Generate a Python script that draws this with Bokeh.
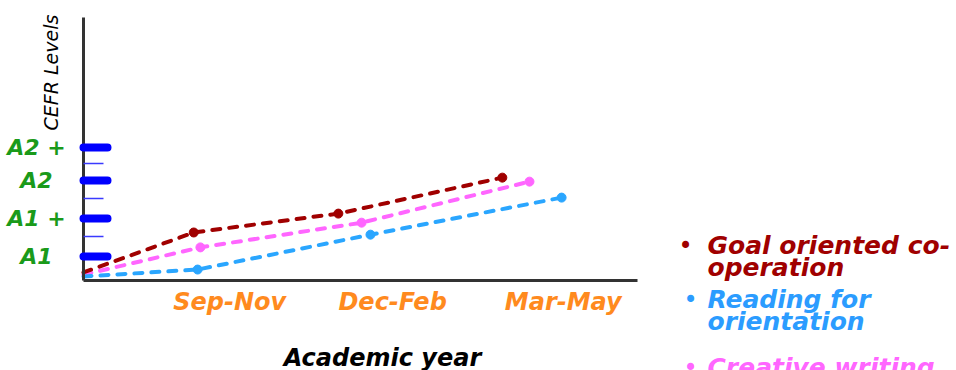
import math

from bokeh.embed import file_html
from bokeh.models import FixedTicker, Label, LinearAxis, Range1d
from bokeh.plotting import figure
from bokeh.resources import INLINE

# Periods of the academic year and where they sit on the time axis
periods = ["Sep-Nov", "Dec-Feb", "Mar-May"]
period_pos = [2.64, 5.58, 8.66]

# CEFR levels on the vertical axis, with the in-between marks
levels = ["A1", "A1 +", "A2", "A2 +"]
level_pos = [1.0, 2.05, 3.1, 4.0]
level_mid = [1.55, 2.6, 3.55]

# Progress of each activity (time, level)
goal_x = [0.0, 1.99, 4.60, 7.56]
goal_y = [0.56, 1.66, 2.18, 3.17]

reading_x = [0.0, 2.06, 5.18, 8.63]
reading_y = [0.45, 0.64, 1.60, 2.62]

creative_x = [0.0, 2.11, 5.02, 8.05]
creative_y = [0.50, 1.25, 1.93, 3.06]

series_names = ["Goal oriented co-\noperation", "Reading for\norientation", "Creative writing"]

# extent of the drawn axes
X_MIN, X_MAX = 0.0, 10.0
Y_MIN, Y_MAX = 0.34, 7.58

RED = "#a00000"
BLUE = "#2aa6ff"
PINK = "#ff66ff"
GREEN = "#1a9a1a"
ORANGE = "#ff8a1e"
FONT = "DejaVu Sans"

W, H = 956, 370
# the plotting frame fills the whole canvas; axes sit inside it
p = figure(
    width=W, height=H,
    x_range=Range1d(-1.4982, 15.7581), y_range=Range1d(-2.1387, 8.0457),
    x_axis_location=None, y_axis_location=None,
    output_backend="svg", toolbar_location=None,
    min_border=0,
)
p.grid.visible = False
p.outline_line_color = None
p.background_fill_color = "white"
p.border_fill_color = "white"

# x axis: period names only, no tick marks
xa = LinearAxis(fixed_location=Y_MIN, bounds=(X_MIN, X_MAX))
xa.ticker = FixedTicker(ticks=period_pos)
xa.major_label_overrides = {v: t for v, t in zip(period_pos, periods)}
xa.major_tick_line_color = None
xa.minor_tick_line_color = None
xa.axis_line_width = 3
xa.axis_line_color = "#333333"
xa.major_label_standoff = 2
xa.major_label_text_font = FONT
xa.major_label_text_font_style = "bold italic"
xa.major_label_text_font_size = "24px"
xa.major_label_text_color = ORANGE
p.add_layout(xa, "below")

# y axis: thick blue level bars, thin blue in-between marks
ya = LinearAxis(fixed_location=X_MIN, bounds=(Y_MIN, Y_MAX))
ya.ticker = FixedTicker(ticks=level_pos, minor_ticks=level_mid)
ya.major_label_overrides = {v: "" for v in level_pos}
ya.axis_line_width = 3
ya.axis_line_color = "#333333"
ya.major_tick_in = 24
ya.major_tick_out = 0
ya.major_tick_line_width = 8
ya.major_tick_line_color = "#0000ff"
ya.major_tick_line_cap = "round"
ya.minor_tick_in = 20
ya.minor_tick_out = 0
ya.minor_tick_line_width = 1.5
ya.minor_tick_line_color = "#3a3aff"
p.add_layout(ya, "left")

# level names beside the bars
for name, v in zip(levels, level_pos):
    p.add_layout(Label(
        x=36, y=v, x_units="screen", y_units="data", text=name,
        text_align="center", text_baseline="middle",
        text_font=FONT, text_font_style="bold italic",
        text_font_size="22px", text_color=GREEN,
    ))

p.add_layout(Label(
    x=50, y=H - 72, x_units="screen", y_units="screen", text="CEFR Levels",
    angle=math.pi / 2, text_align="center", text_baseline="middle",
    text_font=FONT, text_font_style="italic",
    text_font_size="19px", text_color="black",
))

p.add_layout(Label(
    x=382, y=H - 357, x_units="screen", y_units="screen", text="Academic year",
    text_align="center", text_baseline="middle",
    text_font=FONT, text_font_style="bold italic",
    text_font_size="24px", text_color="black",
))

# dashed progress lines with a dot at each period
for xs, ys, c in [(creative_x, creative_y, PINK), (reading_x, reading_y, BLUE), (goal_x, goal_y, RED)]:
    p.line(xs, ys, line_color=c, line_width=4, line_dash="8 9", line_cap="round")
    p.scatter(xs[1:], ys[1:], size=9, color=c)

# bulleted key on the right
key_rows = [
    (series_names[0], RED, 685, 245),
    (series_names[1], "#2b9cff", 690, 299),
    (series_names[2], PINK, 690, 367),
]
for text, c, bx, top in key_rows:
    p.add_layout(Label(
        x=bx, y=H - top, x_units="screen", y_units="screen", text="\u2022",
        text_align="center", text_baseline="middle",
        text_font=FONT, text_font_size="24px", text_color=c,
    ))
    for i, line in enumerate(text.split("\n")):
        p.add_layout(Label(
            x=707, y=H - top - i * 22, x_units="screen", y_units="screen", text=line,
            text_align="left", text_baseline="middle",
            text_font=FONT, text_font_style="bold italic",
            text_font_size="25px", text_color=c,
        ))

open("out.html", "w").write(file_html(p, INLINE))
